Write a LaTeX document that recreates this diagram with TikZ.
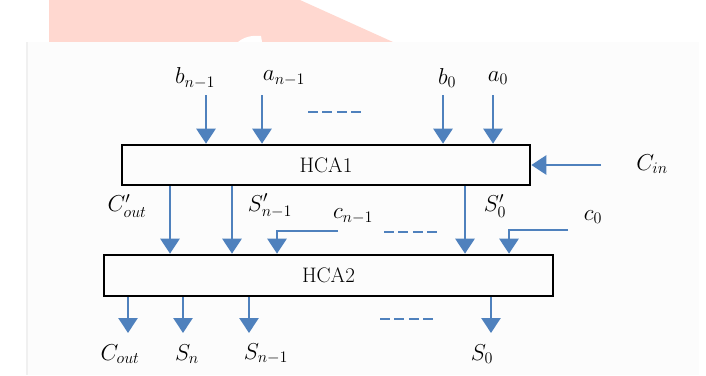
\RequirePackage{fix-cm}
\documentclass[tikz,border=0pt]{standalone}
\usetikzlibrary{arrows.meta}
\definecolor{wireblue}{RGB}{79,129,189}
\definecolor{markpink}{RGB}{255,216,208}
\begin{document}
\begin{tikzpicture}[
  x=1pt, y=-1pt,
  block/.style={draw, line width=2.6pt, inner sep=0pt, font=\fontsize{21}{24}\selectfont},
  wire/.style={draw=wireblue, line width=2.6pt, -{Triangle[width=19pt,length=15pt]}},
  gap/.style={draw=wireblue, line width=2.2pt, dash pattern=on 10pt off 4.4pt},
  lbl/.style={inner sep=0pt, font=\fontsize{23}{26}\selectfont}
]
\useasboundingbox (0,0) rectangle (706,375);
% page background
\fill[markpink] (49,0) -- (300,0) -- (393,42) -- (49,42) -- cycle;
\fill[white] (238,42) .. controls (244,37) and (252,35) .. (261,36) -- (262,42) -- cycle;
\fill[gray!2] (27,42) rectangle (699,375);
\draw[gray!12, line width=1.5pt] (27,42) -- (27,375);

\node[block, minimum width=408pt, minimum height=40pt] (hca1) at (326,165) {HCA1};
\node[block, minimum width=449pt, minimum height=41pt] (hca2) at (328.5,275.5) {HCA2};

% inputs of HCA1
\node[lbl] (bn) at (195,78) {$b_{n-1}$};
\node[lbl] (an) at (284,78) {$a_{n-1}$};
\node[lbl] (b0) at (447,78) {$b_0$};
\node[lbl] (a0) at (498,78) {$a_0$};
\coordinate (bn-in) at (206,95);
\coordinate (an-in) at (262,95);
\coordinate (b0-in) at (443,95);
\coordinate (a0-in) at (493,95);
\draw[wire] (bn-in) -- (bn-in |- hca1.north);
\draw[wire] (an-in) -- (an-in |- hca1.north);
\draw[wire] (b0-in) -- (b0-in |- hca1.north);
\draw[wire] (a0-in) -- (a0-in |- hca1.north);
\draw[gap] (308,112) -- (362,112);

\node[lbl] (cin) at (652,164) {$C_{in}$};
\coordinate (cin-in) at (601,165);
\draw[wire] (cin-in) -- (hca1.east);

% HCA1 to HCA2
\node[lbl] (coutp) at (127,206) {$C'_{out}$};
\node[lbl] (snp) at (270,206) {$S'_{n-1}$};
\node[lbl] (s0p) at (495,206) {$S'_0$};
\node[lbl] (cn) at (353,216) {$c_{n-1}$};
\node[lbl] (c0) at (593,217) {$c_0$};
\draw[wire] (170,0 |- hca1.south) -- (170,0 |- hca2.north);
\draw[wire] (232,0 |- hca1.south) -- (232,0 |- hca2.north);
\draw[wire] (465,0 |- hca1.south) -- (465,0 |- hca2.north);
\coordinate (cn-in) at (338,231);
\coordinate (c0-in) at (568,230);
\draw[wire] (cn-in) -- (277,231) -- (277,0 |- hca2.north);
\draw[wire] (c0-in) -- (509,230) -- (509,0 |- hca2.north);
\draw[gap] (384,232) -- (438,232);

% outputs of HCA2
\node[lbl] (cout) at (120,354) {$C_{out}$};
\node[lbl] (sn) at (187,354) {$S_n$};
\node[lbl] (sn1) at (266,354) {$S_{n-1}$};
\node[lbl] (s0) at (482,354) {$S_0$};
\coordinate (cout-out) at (128,333);
\coordinate (sn-out) at (183,333);
\coordinate (sn1-out) at (249,333);
\coordinate (s0-out) at (491,333);
\draw[wire] (cout-out |- hca2.south) -- (cout-out);
\draw[wire] (sn-out |- hca2.south) -- (sn-out);
\draw[wire] (sn1-out |- hca2.south) -- (sn1-out);
\draw[wire] (s0-out |- hca2.south) -- (s0-out);
\draw[gap] (380,319) -- (434,319);
\end{tikzpicture}
\end{document}
